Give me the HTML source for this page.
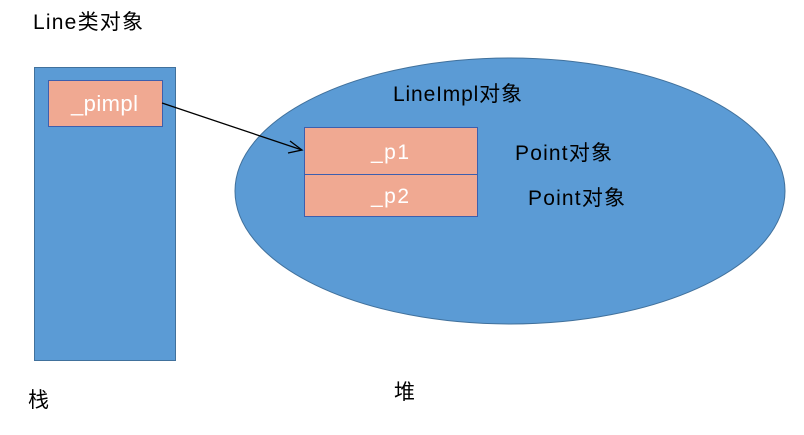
<!DOCTYPE html>
<html><head><meta charset="utf-8"><style>
body{margin:0;background:#fff;width:804px;height:430px;overflow:hidden}
svg text{font-family:"Liberation Sans","Noto Sans CJK SC",sans-serif}
</style></head><body>
<svg width="804" height="430" xmlns="http://www.w3.org/2000/svg">
<text x="33" y="29" font-size="21" fill="#000" textLength="110">Line类对象</text>
<rect x="34.5" y="67.5" width="141" height="293" fill="#5b9bd5" stroke="#41719c"/>
<rect x="48.5" y="80.5" width="114" height="46" fill="#f0a992" stroke="#3d5fae"/>
<text x="71" y="111" font-size="22" fill="#fff" textLength="67">_pimpl</text>
<ellipse cx="510" cy="191" rx="275" ry="133" fill="#5b9bd5" stroke="#41719c"/>
<text x="393" y="101" font-size="21" fill="#000" textLength="129">LineImpl对象</text>
<rect x="304.5" y="127.5" width="173" height="47" fill="#f0a992" stroke="#3d5fae"/>
<rect x="304.5" y="174.5" width="173" height="42" fill="#f0a992" stroke="#3d5fae"/>
<text x="371" y="159" font-size="21" fill="#fff" textLength="38">_p1</text>
<text x="371" y="203" font-size="21" fill="#fff" textLength="38">_p2</text>
<text x="515" y="160" font-size="21" fill="#000" textLength="97">Point对象</text>
<text x="528" y="205" font-size="21" fill="#000" textLength="97">Point对象</text>
<line x1="162" y1="103" x2="302" y2="150" stroke="#000" stroke-width="1.3"/>
<polyline points="290,141 302,150 288,153" fill="none" stroke="#000" stroke-width="1.3"/>
<text x="28" y="407" font-size="21" fill="#000">栈</text>
<text x="394" y="399" font-size="21" fill="#000">堆</text>
</svg>
</body></html>
